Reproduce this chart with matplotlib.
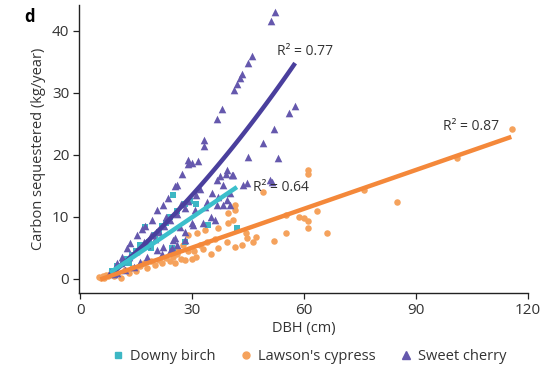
import numpy as np
import matplotlib
matplotlib.use("Agg")
import matplotlib.pyplot as plt
from matplotlib.lines import Line2D

plt.rcParams['font.family'] = ['Open Sans', 'DejaVu Sans']

# ---------------- data ----------------
cherry_x = [8, 9.8, 11.2, 12.5, 13.4, 15.2, 16.5, 17.5, 19.2, 20.6, 22.3, 23.6, 25.4, 26, 27.3, 28.9, 30, 31.6,
            33.2, 33.2, 36.7, 38, 41.3, 42.1, 42.9, 43.4, 45, 46.1, 51.2, 52.2,
            57.6, 56, 52, 49, 45, 53, 50.9, 44.7, 43.7, 51.4,
            38.3, 40.2, 37, 35.4, 39.3, 36.6, 34, 33.5, 30.8, 38.3, 40.2, 30, 30.3, 28.1, 26.8, 25.4, 25,
            24.6, 22.3, 20.6, 17.9, 16, 14.3, 12, 10, 9, 18, 20, 21, 22.5, 24, 26, 28, 29, 31, 32, 27, 23,
            19, 17, 15, 13, 11, 22, 24, 26, 28, 33, 35, 36, 37.5, 39, 41, 29, 36.7, 39.4, 40.7]
cherry_y = [1.1, 2.6, 3.5, 5, 5.8, 7.1, 8, 8.6, 9.5, 11.1, 11.9, 13, 15, 15.2, 16.9, 18.5, 18.7, 19,
            21.5, 22.4, 25.8, 27.4, 30.5, 31.5, 32.4, 33.1, 34.8, 36, 41.6, 43.1,
            27.9, 26.8, 24.2, 21.9, 19.7, 19.5, 16, 15.5, 15.2, 15.6,
            15.2, 13.8, 13.2, 13.8, 12.7, 11.9, 12.4, 11.6, 11.1, 11.9, 11.9, 9, 8.7, 7.6, 8.4, 6.6, 6.3,
            5, 5.2, 4.7, 3.5, 2.7, 1.9, 1.5, 1, 0.8, 5.5, 6.5, 7.5, 8.5, 9.5, 10.5, 11.5, 12.5, 13.5, 14.5, 12, 10,
            7, 6, 4.5, 3.5, 2.5, 4, 4.5, 5.5, 6.2, 9, 10, 9.5, 16.6, 16.9, 16.8, 19.2, 16, 17.6, 16.8]

birch_x = [8.5, 10, 11.5, 12.5, 14, 15, 16, 17.4, 18.5, 20, 21, 22, 23, 25, 24, 26, 28, 29.5, 31,
           34.3, 42, 28.1, 24.6, 25, 19, 13]
birch_y = [1.2, 2, 2.5, 3.2, 3.8, 4.5, 5.5, 8.4, 6, 7, 7.5, 8.5, 9, 13.5, 10, 11, 12, 12.5, 12,
           8.7, 8.2, 6, 5, 4.7, 5, 2.5]

cypress_x = [5, 5.5, 6, 6.5, 7, 7.5, 8, 9, 10, 11, 12, 13, 14, 15, 16, 17, 18, 19, 20, 21, 22, 23, 24,
             25, 25.5, 26, 26.3, 27, 27.6, 28, 29, 30, 30.5, 31, 28.9, 31.3, 33.5, 37, 39.6, 41, 39.6,
             41.5, 41.5, 39.4, 37, 41.5, 43.4, 44.7, 44.5, 46.3, 47, 49, 35, 34, 36, 32, 33,
             52, 55.2, 55.2, 58.7, 60, 61, 61, 63.5, 66.2, 61, 61, 76, 84.9, 101, 115.7]
cypress_y = [0.3, 0.1, 0.5, 0.2, 0.6, 0.4, 0.8, 0.5, 1, 0.2, 1.5, 1, 1.8, 1.2, 2, 2.5, 1.8, 2.8, 2.2, 3, 2.5, 3.3, 2.8,
             3.5, 2.5, 4, 4.7, 3.2, 5.5, 3, 4.5, 3.2, 4.5, 3.5, 7.1, 7.4, 7.9, 8.2, 9, 9.5, 10.6,
             11.1, 11.9, 6, 5, 5.2, 5.5, 6.6, 7.4, 6, 6.8, 14, 4, 6, 6.5, 5.5, 4.8,
             6.1, 7.4, 10.3, 10, 9.8, 9.4, 8.2, 11, 7.4, 17.6, 16.9, 14.4, 12.4, 19.5, 24.2]

# fitted trend lines
cherry_fit_x = [8, 31.3, 57.6]
cherry_fit_y = [0.6, 14.4, 34.8]
birch_fit_x = [8, 42]
birch_fit_y = [1.0, 14.8]
cypress_fit_x = [5.4, 115.5]
cypress_fit_y = [-0.1, 22.9]

r2_labels = ["R\u00b2 = 0.77", "R\u00b2 = 0.64", "R\u00b2 = 0.87"]
r2_pos = [(52.8, 36.6), (46.3, 14.8), (97.2, 24.5)]

species = ["Downy birch", "Lawson's cypress", "Sweet cherry"]
x_ticks = [0, 30, 60, 90, 120]
y_ticks = [0, 10, 20, 30, 40]

# ---------------- style ----------------
c_birch_pt, c_birch_ln = "#3db7c4", "#3bbfcb"
c_cyp_pt, c_cyp_ln = "#f5a25c", "#f4883a"
c_cher_pt, c_cher_ln = "#6558ad", "#4a3f9d"
txt = "#333333"

fig = plt.figure(figsize=(5.45, 3.71), dpi=100)
ax = fig.add_axes([0.145, 0.21, 0.824, 0.777])

ax.scatter(cypress_x, cypress_y, marker='o', s=22, color=c_cyp_pt, linewidths=0, zorder=2)
ax.scatter(birch_x, birch_y, marker='s', s=18, color=c_birch_pt, linewidths=0, zorder=3)
ax.scatter(cherry_x, cherry_y, marker='^', s=30, color=c_cher_pt, linewidths=0, zorder=3)

cf = np.polyfit(cherry_fit_x, cherry_fit_y, 2)
xs = np.linspace(cherry_fit_x[0], cherry_fit_x[-1], 100)
ax.plot(xs, np.polyval(cf, xs), color=c_cher_ln, lw=3.2, solid_capstyle='butt', zorder=4)
ax.plot(birch_fit_x, birch_fit_y, color=c_birch_ln, lw=3.2, solid_capstyle='butt', zorder=5)
ax.plot(cypress_fit_x, cypress_fit_y, color=c_cyp_ln, lw=3.2, solid_capstyle='butt', zorder=5)

for lab, (x, y) in zip(r2_labels, r2_pos):
    ax.text(x, y, lab, fontsize=10, color=txt, va='center', ha='left', zorder=6)

ax.set_xlim(-0.3, 120)
ax.set_ylim(-2.3, 44.2)
ax.set_xticks(x_ticks)
ax.set_yticks(y_ticks)
ax.tick_params(axis='both', direction='out', length=4, width=0.9, colors='#222222',
               labelcolor=txt, labelsize=11, pad=3)
for s in ['top', 'right']:
    ax.spines[s].set_visible(False)
for s in ['left', 'bottom']:
    ax.spines[s].set_color('#222222')
    ax.spines[s].set_linewidth(1.0)

ax.set_xlabel("DBH (cm)", fontsize=10.5, color=txt, labelpad=2)
ax.set_ylabel("Carbon sequestered (kg/year)", fontsize=10.5, color=txt, labelpad=4)

fig.text(0.045, 0.955, "d", fontsize=12, fontweight='bold', color='black', va='center')

handles = [Line2D([], [], marker='s', color=c_birch_pt, ls='none', markersize=5),
           Line2D([], [], marker='o', color=c_cyp_pt, ls='none', markersize=5),
           Line2D([], [], marker='^', color=c_cher_pt, ls='none', markersize=6)]
fig.legend(handles, species, loc='center', bbox_to_anchor=(0.565, 0.04), ncol=3, frameon=False,
           fontsize=10.5, handletextpad=0.2, handlelength=1.2, columnspacing=1.5, labelcolor=txt)

fig.savefig("out.png", dpi=100)
